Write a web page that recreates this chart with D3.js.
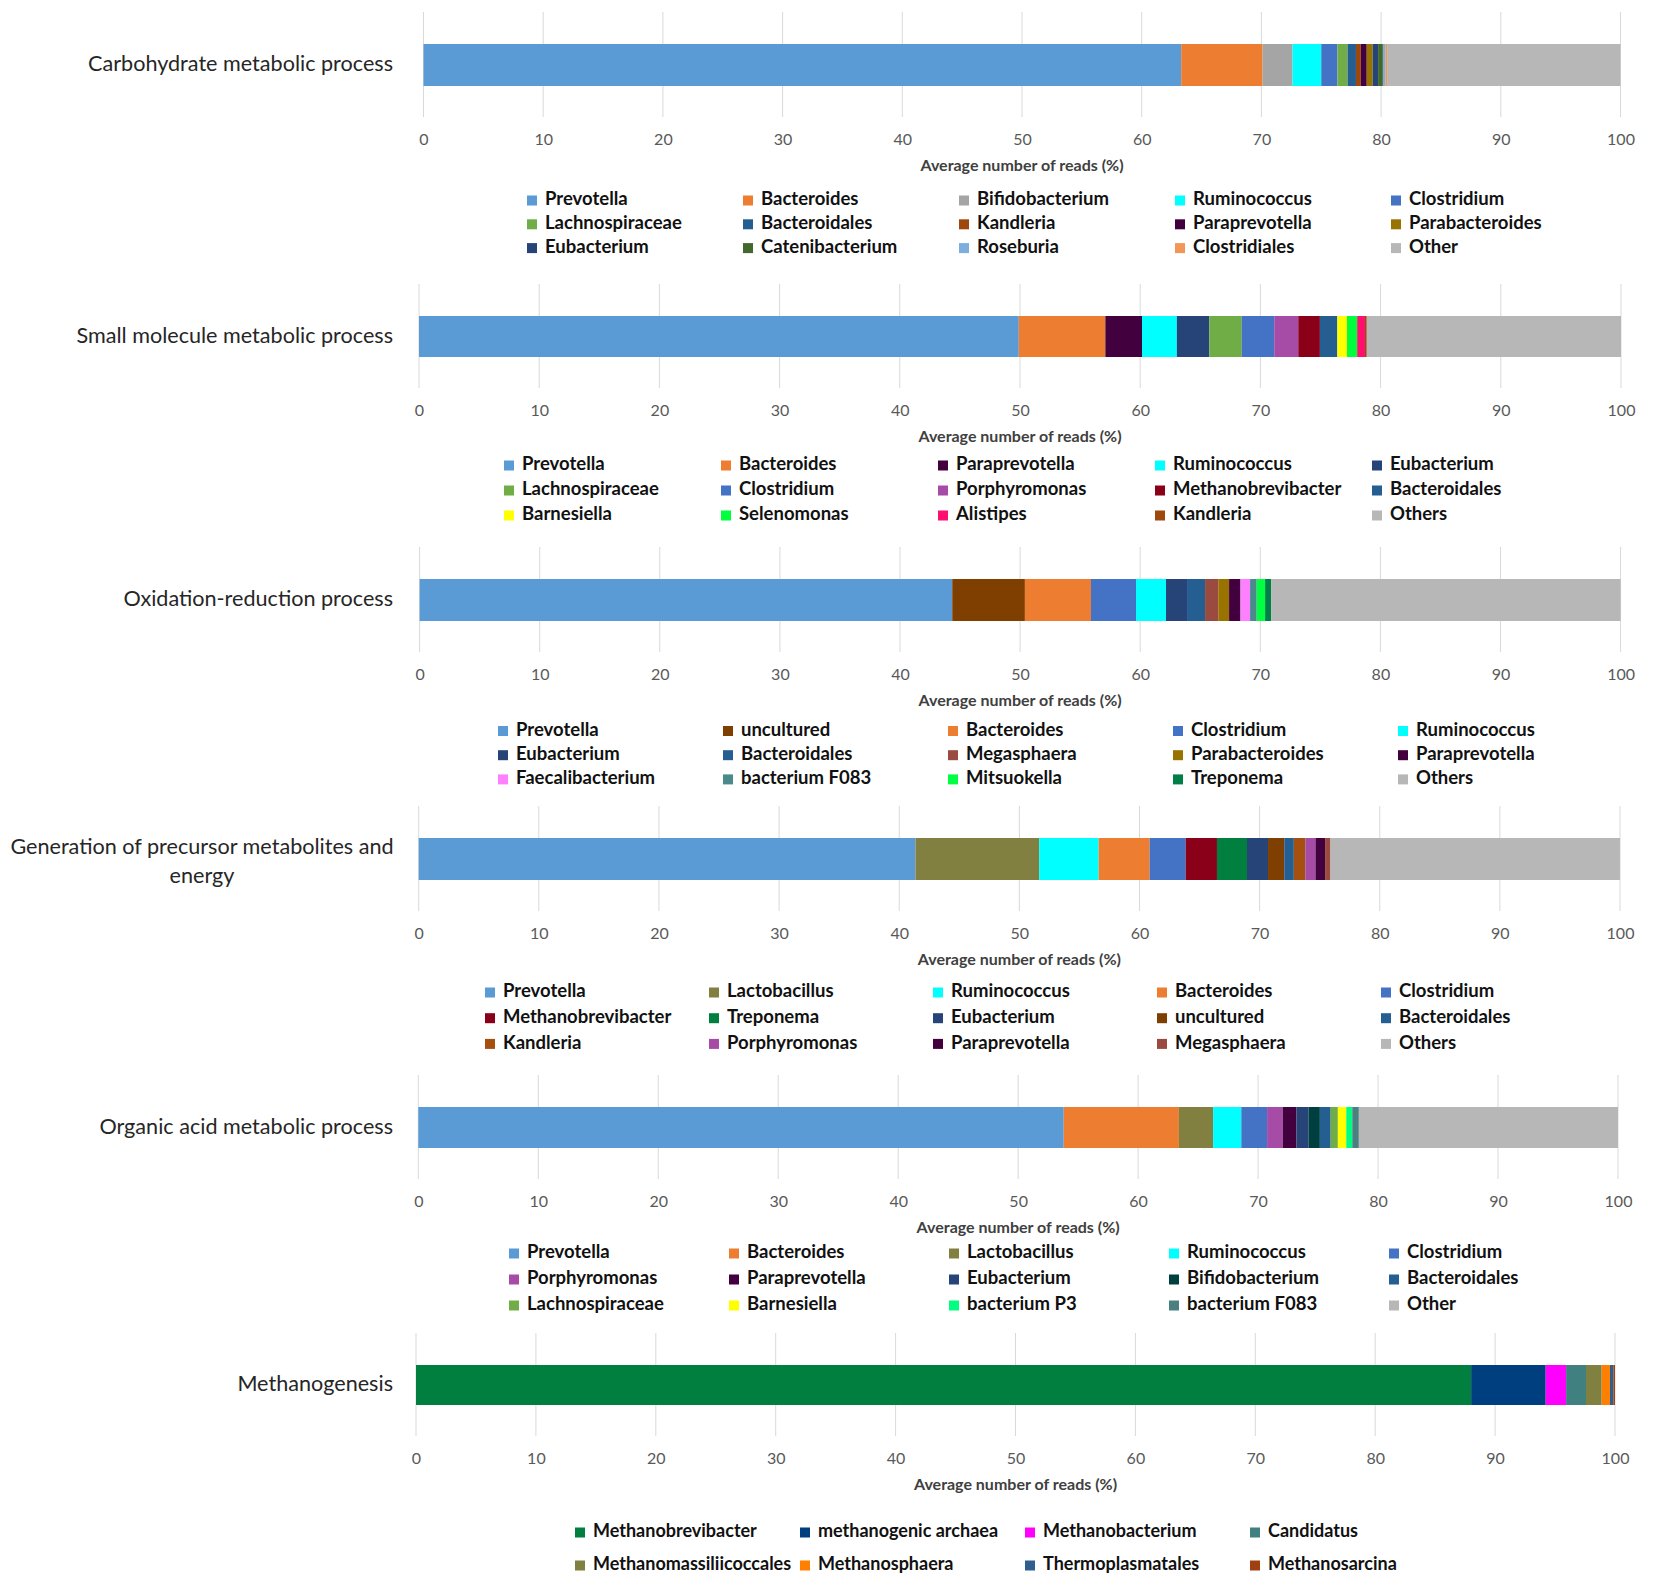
<!DOCTYPE html>
<html>
<head>
<meta charset="utf-8">
<script src="https://cdn.jsdelivr.net/npm/d3@7"></script>
<style>
  body { margin: 0; background: #fff; }
  text { font-family: Lato, "Open Sans", sans-serif; }
</style>
</head>
<body>
<script>
(function(){

// ---- data ----
var ticks = [0, 10, 20, 30, 40, 50, 60, 70, 80, 90, 100];
var axisTitle = "Average number of reads (%)";

var processLabels = [
	["Carbohydrate metabolic process"],
	["Small molecule metabolic process"],
	["Oxidation-reduction process"],
	["Generation of precursor metabolites and", "energy"],
	["Organic acid metabolic process"],
	["Methanogenesis"]
];

var carbNames = ["Prevotella", "Bacteroides", "Bifidobacterium", "Ruminococcus", "Clostridium",
	"Lachnospiraceae", "Bacteroidales", "Kandleria", "Paraprevotella", "Parabacteroides",
	"Eubacterium", "Catenibacterium", "Roseburia", "Clostridiales", "Other"];
var carbValues = [63.3, 6.8, 2.5, 2.4, 1.35, 0.85, 0.7, 0.4, 0.5, 0.5, 0.45, 0.4, 0.2, 0.15, 19.5];
var carbColors = ["#5b9bd5", "#ed7d31", "#a5a5a5", "#00ffff", "#4472c4", "#70ad47", "#255e91",
	"#9e480e", "#43003f", "#997300", "#264478", "#43682b", "#7cafdd", "#f1975a", "#b7b7b7"];

var smallNames = ["Prevotella", "Bacteroides", "Paraprevotella", "Ruminococcus", "Eubacterium",
	"Lachnospiraceae", "Clostridium", "Porphyromonas", "Methanobrevibacter", "Bacteroidales",
	"Barnesiella", "Selenomonas", "Alistipes", "Kandleria", "Others"];
var smallValues = [49.9, 7.2, 3.05, 2.9, 2.7, 2.7, 2.7, 2.0, 1.8, 1.45, 0.8, 0.85, 0.65, 0.15, 21.15];
var smallColors = ["#5b9bd5", "#ed7d31", "#43003f", "#00ffff", "#264478", "#70ad47", "#4472c4",
	"#a64ca6", "#8b0019", "#255e91", "#ffff00", "#00ff3c", "#ff1070", "#9e480e", "#b7b7b7"];

var oxidNames = ["Prevotella", "uncultured", "Bacteroides", "Clostridium", "Ruminococcus",
	"Eubacterium", "Bacteroidales", "Megasphaera", "Parabacteroides", "Paraprevotella",
	"Faecalibacterium", "bacterium F083", "Mitsuokella", "Treponema", "Others"];
var oxidValues = [44.35, 6.05, 5.5, 3.75, 2.5, 1.75, 1.5, 1.1, 0.9, 0.95, 0.8, 0.55, 0.7, 0.5, 29.1];
var oxidColors = ["#5b9bd5", "#7f3f00", "#ed7d31", "#4472c4", "#00ffff", "#264478", "#255e91",
	"#9b4a40", "#997300", "#43003f", "#ff80ff", "#4a8a8a", "#00ff40", "#007f47", "#b7b7b7"];

var genNames = ["Prevotella", "Lactobacillus", "Ruminococcus", "Bacteroides", "Clostridium",
	"Methanobrevibacter", "Treponema", "Eubacterium", "uncultured", "Bacteroidales",
	"Kandleria", "Porphyromonas", "Paraprevotella", "Megasphaera", "Others"];
var genValues = [41.35, 10.3, 4.95, 4.25, 3.0, 2.6, 2.5, 1.75, 1.35, 0.8, 0.95, 0.85, 0.8, 0.45, 24.1];
var genColors = ["#5b9bd5", "#828040", "#00ffff", "#ed7d31", "#4472c4", "#8b0019", "#007f3f",
	"#264478", "#7f3f00", "#255e91", "#a5500f", "#a64ca6", "#43003f", "#9b4a40", "#b7b7b7"];

var orgNames = ["Prevotella", "Bacteroides", "Lactobacillus", "Ruminococcus", "Clostridium",
	"Porphyromonas", "Paraprevotella", "Eubacterium", "Bifidobacterium", "Bacteroidales",
	"Lachnospiraceae", "Barnesiella", "bacterium P3", "bacterium F083", "Other"];
var orgValues = [53.8, 9.6, 2.85, 2.35, 2.15, 1.3, 1.15, 1.0, 0.95, 0.9, 0.6, 0.7, 0.5, 0.55, 21.6];
var orgColors = ["#5b9bd5", "#ed7d31", "#828040", "#00ffff", "#4472c4", "#a64ca6", "#43003f",
	"#264478", "#003f3f", "#255e91", "#70ad47", "#ffff00", "#00ff80", "#4a8080", "#b7b7b7"];

var methNames = ["Methanobrevibacter", "methanogenic archaea", "Methanobacterium", "Candidatus",
	"Methanomassiliicoccales", "Methanosphaera", "Thermoplasmatales", "Methanosarcina"];
var methValues = [88.0, 6.22, 1.7, 1.66, 1.31, 0.69, 0.28, 0.14];
var methColors = ["#007f3f", "#003f7f", "#ff00ff", "#408080", "#808040", "#ff8000", "#2f5f8f", "#a04010"];

// ---- layout (pixels) ----
var layout = [
	{top: 44,   h: 42, x0: 423.5, x1: 1620.5, legX: 532, legDx: 216, legY: 156.5, legDy: 23.8, cols: 5, legFont: 18.5},
	{top: 316,  h: 41, x0: 419,   x1: 1621,   legX: 509, legDx: 217, legY: 149.5, legDy: 25,   cols: 5, legFont: 18.5},
	{top: 579,  h: 42, x0: 419.6, x1: 1620.6, legX: 503, legDx: 225, legY: 152, legDy: 24.2, cols: 5, legFont: 18.5},
	{top: 838,  h: 42, x0: 418.7, x1: 1620,   legX: 490, legDx: 224, legY: 154.5, legDy: 25.7, cols: 5, legFont: 18.5},
	{top: 1107, h: 41, x0: 418.3, x1: 1618,   legX: 514, legDx: 220, legY: 146.5, legDy: 26,   cols: 5, legFont: 18.5},
	{top: 1365, h: 40, x0: 416,   x1: 1615,   legX: 580, legDx: 225, legY: 167.5, legDy: 33,   cols: 4, legFont: 18}
];

var panels = [
	{names: carbNames, values: carbValues, colors: carbColors},
	{names: smallNames, values: smallValues, colors: smallColors},
	{names: oxidNames, values: oxidValues, colors: oxidColors},
	{names: genNames, values: genValues, colors: genColors},
	{names: orgNames, values: orgValues, colors: orgColors},
	{names: methNames, values: methValues, colors: methColors}
];

var svg = d3.select("body").append("svg")
	.attr("width", 1653)
	.attr("height", 1594);

panels.forEach(function(p, k){
	var L = layout[k];
	var x = d3.scaleLinear().domain([0, 100]).range([L.x0, L.x1]);
	var g = svg.append("g");
	var bottom = L.top + L.h;

	// grid
	g.selectAll("line.grid")
		.data(ticks)
		.join("line")
		.attr("class", "grid")
		.attr("x1", function(d){ return x(d); })
		.attr("x2", function(d){ return x(d); })
		.attr("y1", L.top - 32)
		.attr("y2", bottom + 31)
		.attr("stroke", "#d9d9d9")
		.attr("stroke-width", 1);

	// stacked bar
	var ends = d3.cumsum(p.values);
	var segs = p.values.map(function(v, i){
		return {start: ends[i] - v, end: ends[i], color: p.colors[i]};
	});
	g.selectAll("rect.seg")
		.data(segs)
		.join("rect")
		.attr("class", "seg")
		.attr("x", function(d){ return x(d.start); })
		.attr("width", function(d){ return Math.max(0, x(d.end) - x(d.start)); })
		.attr("y", L.top)
		.attr("height", L.h)
		.attr("fill", function(d){ return d.color; });

	// axis
	var ax = g.append("g")
		.attr("transform", "translate(0," + (bottom + 48) + ")")
		.call(d3.axisBottom(x).tickValues(ticks).tickSize(0).tickPadding(0));
	ax.select(".domain").remove();
	ax.selectAll("text")
		.attr("fill", "#595959")
		.style("font-size", "16px")
		.style("font-family", "Lato, sans-serif");

	g.append("text")
		.attr("x", (L.x0 + L.x1) / 2)
		.attr("y", bottom + 81)
		.attr("text-anchor", "middle")
		.attr("dominant-baseline", "middle")
		.attr("fill", "#404040")
		.style("font-size", "16px")
		.style("font-weight", "bold")
		.text(axisTitle);

	// process label
	var lab = processLabels[k];
	var cy = L.top + L.h / 2 + 1;
	if (lab.length == 1) {
		g.append("text")
			.attr("x", 393)
			.attr("y", cy)
			.attr("text-anchor", "end")
			.attr("dominant-baseline", "middle")
			.attr("fill", "#262626")
			.style("font-size", "21.6px")
			.text(lab[0]);
	} else {
		g.selectAll("text.lab2")
			.data(lab)
			.join("text")
			.attr("class", "lab2")
			.attr("x", 202)
			.attr("y", function(d, i){ return cy - 11 + i * 29; })
			.attr("text-anchor", "middle")
			.attr("dominant-baseline", "middle")
			.attr("fill", "#262626")
			.style("font-size", "21.6px")
			.text(function(d){ return d; });
	}

	// legend
	var leg = g.selectAll("g.leg")
		.data(p.names)
		.join("g")
		.attr("class", "leg")
		.attr("transform", function(d, i){
			var c = i % L.cols, r = Math.floor(i / L.cols);
			return "translate(" + (L.legX + c * L.legDx) + "," + (L.top + L.legY + r * L.legDy) + ")";
		});
	leg.append("rect")
		.attr("x", -5)
		.attr("y", -5)
		.attr("width", 10)
		.attr("height", 10)
		.attr("fill", function(d, i){ return p.colors[i]; });
	leg.append("text")
		.attr("x", 13)
		.attr("y", 0)
		.attr("dominant-baseline", "middle")
		.attr("fill", "#111")
		.style("font-size", L.legFont + "px")
		.style("font-weight", "bold")
		.text(function(d){ return d; });
});

})()
</script>
</body>
</html>
